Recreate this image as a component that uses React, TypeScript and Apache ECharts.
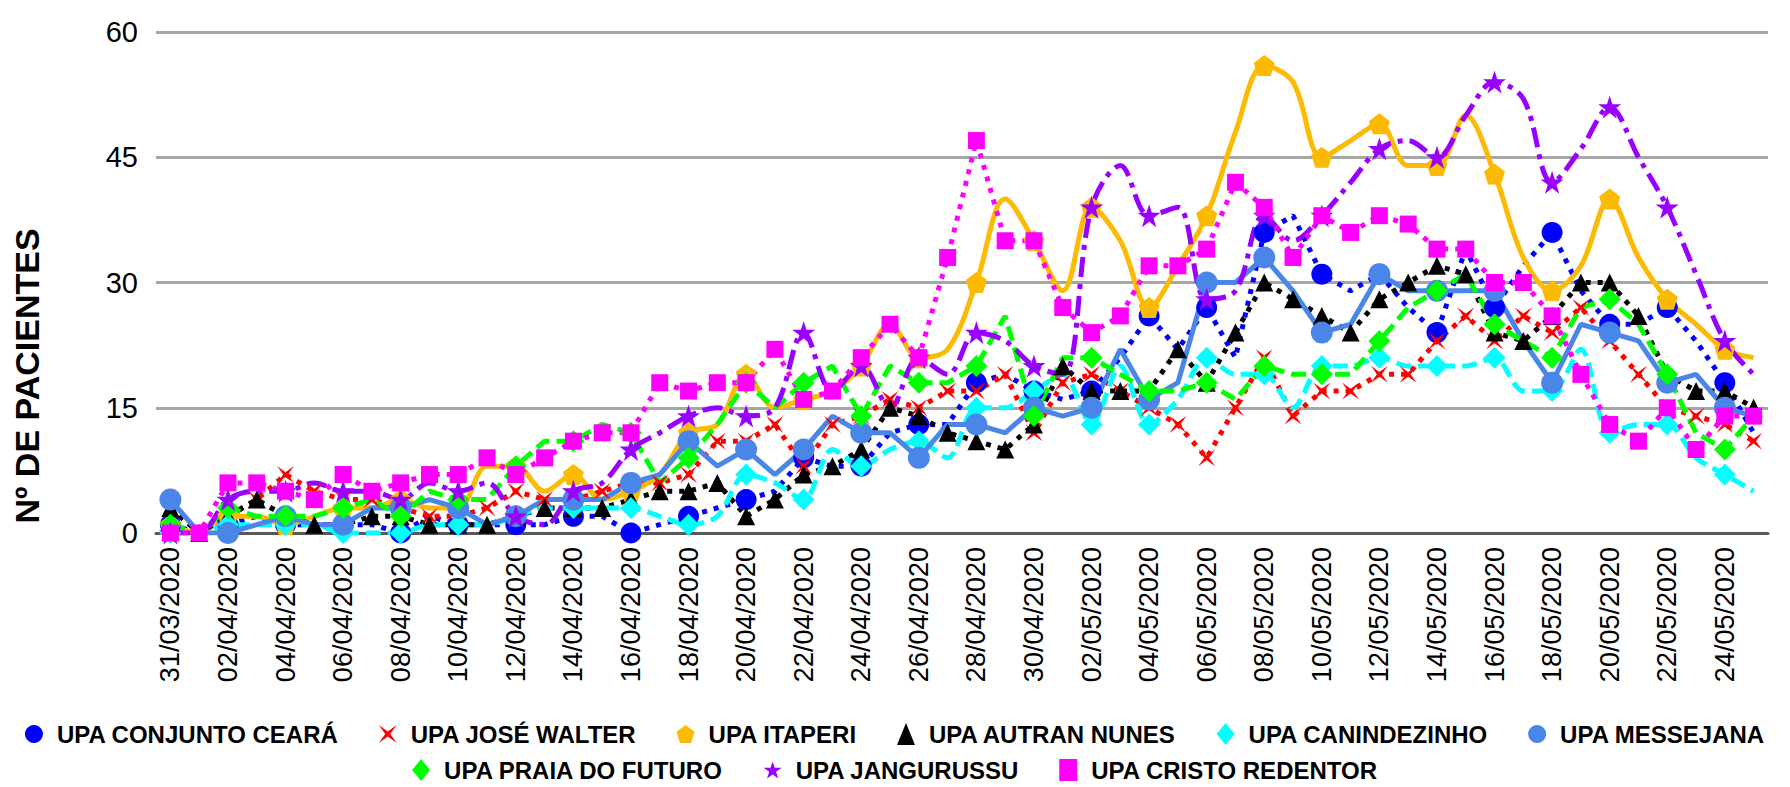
import React, { useEffect, useRef } from 'react';
import * as echarts from 'echarts';

const dates = [
  '31/03/2020', '01/04/2020', '02/04/2020', '03/04/2020', '04/04/2020', '05/04/2020', '06/04/2020', '07/04/2020',
  '08/04/2020', '09/04/2020', '10/04/2020', '11/04/2020', '12/04/2020', '13/04/2020', '14/04/2020', '15/04/2020',
  '16/04/2020', '17/04/2020', '18/04/2020', '19/04/2020', '20/04/2020', '21/04/2020', '22/04/2020', '23/04/2020',
  '24/04/2020', '25/04/2020', '26/04/2020', '27/04/2020', '28/04/2020', '29/04/2020', '30/04/2020', '01/05/2020',
  '02/05/2020', '03/05/2020', '04/05/2020', '05/05/2020', '06/05/2020', '07/05/2020', '08/05/2020', '09/05/2020',
  '10/05/2020', '11/05/2020', '12/05/2020', '13/05/2020', '14/05/2020', '15/05/2020', '16/05/2020', '17/05/2020',
  '18/05/2020', '19/05/2020', '20/05/2020', '21/05/2020', '22/05/2020', '23/05/2020', '24/05/2020', '25/05/2020',
];

const conjuntoCeara = [1, 0, 1, 2, 1, 1, 1, 1, 0, 2, 1, 1, 1, 1, 2, 2, 0, 1, 2, 3, 4, 5, 9, 8, 8, 12, 13, 13, 18, 19, 17, 16, 17, 21, 26, 22, 27, 21, 36, 38, 31, 29, 31, 27, 24, 34, 27, 32, 36, 29, 25, 25, 27, 23, 18, 12];
const joseWalter = [3, 0, 2, 4, 7, 5, 4, 4, 3, 2, 2, 3, 5, 4, 4, 5, 6, 6, 7, 11, 11, 13, 8, 13, 14, 16, 15, 17, 17, 19, 12, 18, 19, 17, 15, 13, 9, 15, 21, 14, 17, 17, 19, 19, 23, 26, 23, 26, 24, 27, 23, 19, 15, 14, 13, 11];
const itaperi = [1, 0, 2, 2, 1, 2, 3, 3, 4, 3, 3, 8, 8, 5, 7, 4, 5, 7, 12, 13, 19, 15, 16, 17, 20, 25, 21, 22, 30, 40, 35, 29, 39, 35, 27, 32, 38, 48, 56, 54, 45, 47, 49, 44, 44, 50, 43, 33, 29, 32, 40, 33, 28, 25, 22, 21];
const autranNunes = [3, 0, 2, 4, 2, 1, 1, 2, 2, 1, 1, 1, 2, 3, 3, 3, 4, 5, 5, 6, 2, 4, 7, 8, 10, 15, 14, 12, 11, 10, 13, 20, 17, 17, 17, 22, 18, 24, 30, 28, 26, 24, 28, 30, 32, 31, 24, 23, 26, 30, 30, 26, 19, 17, 17, 15];
const canindezinho = [0, 0, 1, 1, 1, 1, 0, 0, 0, 1, 1, 1, 2, 3, 3, 3, 3, 2, 1, 2, 7, 6, 4, 10, 8, 10, 11, 9, 15, 15, 17, 19, 13, 20, 13, 16, 21, 19, 19, 15, 20, 20, 21, 20, 20, 20, 21, 17, 17, 22, 12, 13, 13, 9, 7, 5];
const messejana = [4, 0, 0, 1, 2, 1, 1, 3, 3, 4, 3, 1, 2, 4, 4, 4, 6, 7, 11, 8, 10, 7, 10, 14, 12, 12, 9, 13, 13, 12, 15, 14, 15, 22, 16, 18, 30, 30, 33, 29, 24, 25, 31, 29, 29, 29, 29, 23, 18, 25, 24, 23, 18, 19, 15, 14];
const praiaFuturo = [1, 0, 3, 2, 2, 2, 3, 4, 2, 5, 4, 4, 8, 11, 11, 13, 12, 6, 9, 13, 18, 15, 18, 20, 14, 20, 18, 18, 20, 26, 14, 21, 21, 19, 17, 17, 18, 16, 20, 19, 19, 19, 23, 27, 29, 31, 25, 23, 21, 27, 28, 25, 19, 12, 10, 14];
const jangurussu = [0, 0, 4, 5, 5, 6, 5, 5, 4, 6, 5, 6, 2, 1, 5, 6, 10, 12, 14, 15, 14, 15, 24, 17, 20, 15, 21, 19, 24, 23, 20, 19, 39, 44, 38, 39, 28, 29, 38, 35, 38, 42, 46, 47, 45, 50, 54, 52, 42, 46, 51, 45, 39, 31, 23, 19];
const cristoRedentor = [0, 0, 6, 6, 5, 4, 7, 5, 6, 7, 7, 9, 7, 9, 11, 12, 12, 18, 17, 18, 18, 22, 16, 17, 21, 25, 21, 33, 47, 35, 35, 27, 24, 26, 32, 32, 34, 42, 39, 33, 38, 36, 38, 37, 34, 34, 30, 30, 26, 19, 13, 11, 15, 10, 14, 14];

const yTicks = { min: 0, max: 60, interval: 15 };
const yTitle = 'Nº DE PACIENTES';

const STAR = 'path://M50,0 L61.8,35.5 L100,35.5 L69.1,57.5 L80.9,95 L50,72 L19.1,95 L30.9,57.5 L0,35.5 L38.2,35.5 Z';
const PENTAGON = 'path://M50,0 L100,38 L81,100 L19,100 L0,38 Z';
const CROSS = 'path://M0,0 L50,36 L100,0 L64,50 L100,100 L50,64 L0,100 L36,50 Z';

const DOT = [5, 7];
const DASH = [15, 7];
const DASHDOT = [20, 7, 5, 7];

const seriesDefs = [
  { name: 'UPA CONJUNTO CEARÁ', data: conjuntoCeara, color: '#0000FF', symbol: 'circle', size: 21, dash: DOT, smooth: false },
  { name: 'UPA JOSÉ WALTER', data: joseWalter, color: '#FF0000', symbol: CROSS, size: 17, dash: DOT, smooth: false },
  { name: 'UPA ITAPERI', data: itaperi, color: '#FCBA03', symbol: PENTAGON, size: 21, dash: 'solid', smooth: 0.35 },
  { name: 'UPA AUTRAN NUNES', data: autranNunes, color: '#000000', symbol: 'triangle', size: 18, dash: DOT, smooth: false },
  { name: 'UPA CANINDEZINHO', data: canindezinho, color: '#00FFFF', symbol: 'diamond', size: 22, dash: DASH, smooth: 0.3 },
  { name: 'UPA MESSEJANA', data: messejana, color: '#4A86E8', symbol: 'circle', size: 22, dash: 'solid', smooth: false },
  { name: 'UPA PRAIA DO FUTURO', data: praiaFuturo, color: '#00FF00', symbol: 'diamond', size: 22, dash: DASH, smooth: false },
  { name: 'UPA JANGURUSSU', data: jangurussu, color: '#9900FF', symbol: STAR, size: 23, dash: DASHDOT, smooth: 0.35 },
  { name: 'UPA CRISTO REDENTOR', data: cristoRedentor, color: '#FF00FF', symbol: 'rect', size: 17, dash: DOT, smooth: false },
];

const FONT = "'Liberation Sans', Arial, Helvetica, sans-serif";

export default function App() {
  const ref = useRef<HTMLDivElement>(null);

  useEffect(() => {
    if (!ref.current) return;
    const chart = echarts.init(ref.current, undefined, { renderer: 'svg' });

    const legendText = {
      fontSize: 24,
      fontWeight: 'bold' as const,
      color: '#000',
      fontFamily: FONT,
      padding: [0, 0, 0, 9],
    };
    const legendItem = (d: any) => ({ name: d.name, icon: d.symbol });

    chart.setOption({
      animation: false,
      backgroundColor: '#FFFFFF',
      grid: { left: 156, right: 22, top: 32, bottom: 254, containLabel: false },
      xAxis: {
        type: 'category',
        data: dates,
        boundaryGap: true,
        axisLine: { show: true, lineStyle: { color: '#595959', width: 3 } },
        axisTick: { show: false },
        axisLabel: {
          interval: 1,
          rotate: 90,
          margin: 14,
          fontSize: 27,
          color: '#000',
          fontFamily: FONT,
        },
        splitLine: { show: false },
      },
      yAxis: {
        type: 'value',
        min: yTicks.min,
        max: yTicks.max,
        interval: yTicks.interval,
        axisLine: { show: false },
        axisTick: { show: false },
        axisLabel: { margin: 18, fontSize: 29, color: '#000', fontFamily: FONT },
        splitLine: { show: true, lineStyle: { color: '#A6A6A6', width: 3 } },
      },
      legend: [
        {
          data: seriesDefs.slice(0, 6).map(legendItem),
          left: 'center',
          top: 717,
          itemWidth: 18,
          itemHeight: 22,
          itemGap: 40,
          textStyle: legendText,
        },
        {
          data: seriesDefs.slice(6).map(legendItem),
          left: 'center',
          top: 753,
          itemWidth: 18,
          itemHeight: 22,
          itemGap: 40,
          textStyle: legendText,
        },
      ],
      graphic: [
        {
          type: 'text',
          x: 27,
          y: 376,
          rotation: Math.PI / 2,
          style: {
            text: yTitle,
            font: `bold 34px ${FONT}`,
            fill: '#000',
            textAlign: 'center',
            textVerticalAlign: 'middle',
          },
        },
      ],
      series: seriesDefs.map((d) => ({
        name: d.name,
        type: 'line',
        data: d.data,
        symbol: d.symbol,
        symbolSize: d.size,
        showSymbol: true,
        smooth: d.smooth,
        itemStyle: { color: d.color, borderWidth: 0 },
        lineStyle: { color: d.color, width: 5, type: d.dash as any, cap: 'butt' },
        emphasis: { disabled: true },
      })),
    });

    return () => chart.dispose();
  }, []);

  return (
    <div
      ref={ref}
      style={{ position: 'fixed', left: 0, top: 0, width: 1790, height: 787, background: '#fff' }}
    />
  );
}
